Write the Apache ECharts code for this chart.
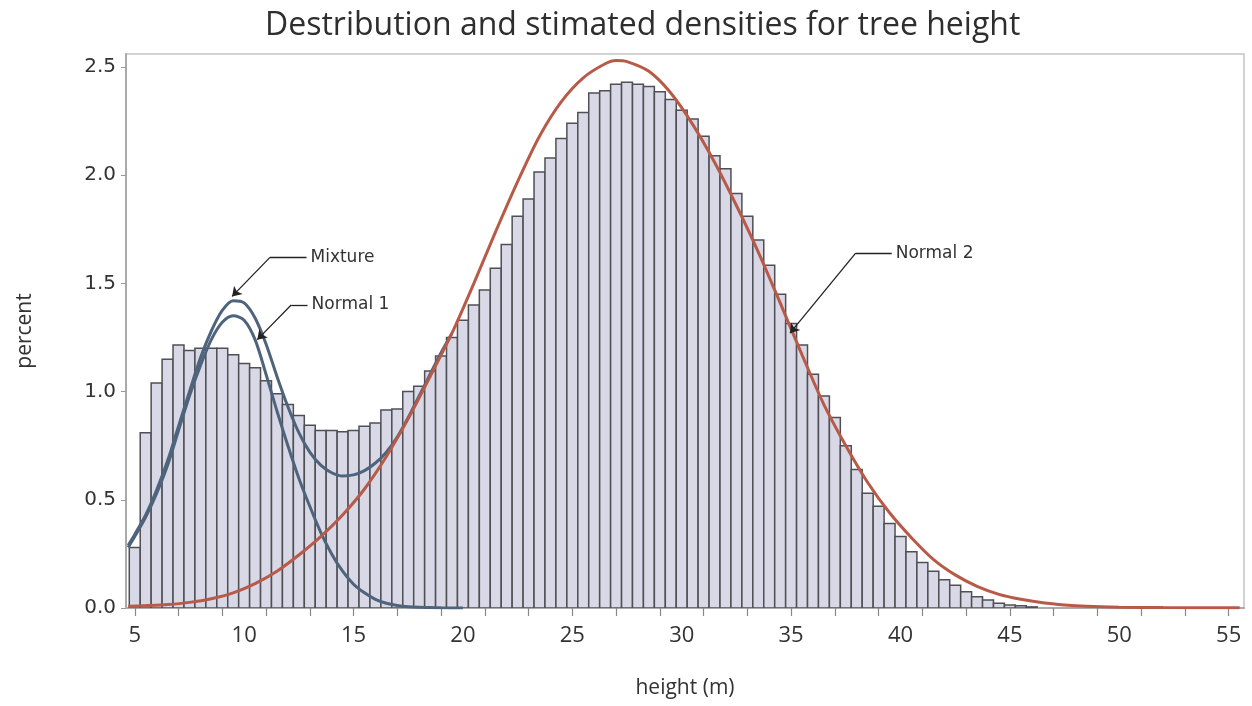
<!DOCTYPE html>
<html>
<head>
<meta charset="utf-8">
<script src="https://cdn.jsdelivr.net/npm/echarts@6/dist/echarts.min.js"></script>
<style>
  html, body { margin: 0; padding: 0; background: #fff; }
  #chart { width: 1252px; height: 706px; }
</style>
</head>
<body>
<div id="chart"></div>
<script>
// histogram bins (centre of each 0.5 m bin) and percent per bin
const binCenters = [
  5.0, 5.5, 6.0, 6.5, 7.0, 7.5, 8.0, 8.5, 9.0, 9.5,
  10.0, 10.5, 11.0, 11.5, 12.0, 12.5, 13.0, 13.5, 14.0, 14.5,
  15.0, 15.5, 16.0, 16.5, 17.0, 17.5, 18.0, 18.5, 19.0, 19.5,
  20.0, 20.5, 21.0, 21.5, 22.0, 22.5, 23.0, 23.5, 24.0, 24.5,
  25.0, 25.5, 26.0, 26.5, 27.0, 27.5, 28.0, 28.5, 29.0, 29.5,
  30.0, 30.5, 31.0, 31.5, 32.0, 32.5, 33.0, 33.5, 34.0, 34.5,
  35.0, 35.5, 36.0, 36.5, 37.0, 37.5, 38.0, 38.5, 39.0, 39.5,
  40.0, 40.5, 41.0, 41.5, 42.0, 42.5, 43.0, 43.5, 44.0, 44.5,
  45.0, 45.5, 46.0
];
const binPercent = [
  0.28, 0.81, 1.04, 1.15, 1.215, 1.19, 1.20, 1.20, 1.20, 1.17,
  1.13, 1.11, 1.05, 0.99, 0.94, 0.89, 0.845, 0.82, 0.82, 0.815,
  0.82, 0.84, 0.855, 0.915, 0.92, 1.00, 1.025, 1.095, 1.165, 1.25,
  1.33, 1.40, 1.47, 1.57, 1.68, 1.81, 1.89, 2.015, 2.08, 2.17,
  2.24, 2.29, 2.38, 2.39, 2.42, 2.43, 2.42, 2.41, 2.385, 2.35,
  2.30, 2.26, 2.18, 2.09, 2.03, 1.915, 1.81, 1.70, 1.584, 1.45,
  1.315, 1.215, 1.08, 0.98, 0.88, 0.75, 0.64, 0.53, 0.47, 0.39,
  0.33, 0.26, 0.21, 0.17, 0.13, 0.105, 0.075, 0.052, 0.037, 0.022,
  0.014, 0.01, 0.005
];

// estimated density curves
const normal1X = [4.7, 5.0, 5.5, 6.0, 6.5, 7.0, 7.5, 8.0, 8.5, 9.0, 9.5, 10.0, 10.5, 11.0, 11.5, 12.0, 12.5, 13.0, 13.5, 14.0, 14.5, 15.0, 15.5, 16.0, 16.5, 17.0, 17.5, 18.0, 18.5, 19.0, 20.0];
const normal1Y = [0.28, 0.33, 0.42, 0.53, 0.66, 0.82, 0.98, 1.12, 1.24, 1.32, 1.35, 1.33, 1.24, 1.08, 0.91, 0.75, 0.60, 0.47, 0.35, 0.25, 0.17, 0.11, 0.07, 0.04, 0.022, 0.012, 0.006, 0.003, 0.002, 0.001, 0.0];

const mixtureX = [4.7, 5.0, 5.5, 6.0, 6.5, 7.0, 7.5, 8.0, 8.5, 9.0, 9.5, 10.0, 10.5, 11.0, 11.5, 12.0, 12.5, 13.0, 13.5, 14.0, 14.5, 15.0, 15.5, 16.0, 16.5, 17.0, 17.5, 18.0, 18.5, 19.0, 19.5];
const mixtureY = [0.29, 0.34, 0.43, 0.545, 0.68, 0.84, 1.00, 1.155, 1.28, 1.375, 1.42, 1.41, 1.34, 1.22, 1.07, 0.93, 0.81, 0.72, 0.66, 0.625, 0.61, 0.615, 0.635, 0.67, 0.72, 0.79, 0.88, 0.98, 1.08, 1.18, 1.27];

const normal2X = [4.7, 5.5, 6.5, 7.5, 8.5, 9.5, 10.5, 11.5, 12.5, 13.5, 14.5, 15.5, 16.5, 17.5, 18.5, 19.5, 20.5, 21.5, 22.5, 23.5, 24.5, 25.5, 26.5, 27.0, 27.5, 28.5, 29.5, 30.5, 31.5, 32.5, 33.5, 34.5, 35.5, 36.5, 37.5, 38.5, 39.5, 40.5, 41.5, 42.5, 43.5, 44.5, 45.5, 46.5, 47.5, 48.5, 50, 52, 55.5];
const normal2Y = [0.008, 0.011, 0.016, 0.026, 0.043, 0.07, 0.113, 0.17, 0.245, 0.33, 0.43, 0.55, 0.70, 0.875, 1.07, 1.27, 1.50, 1.74, 1.97, 2.18, 2.34, 2.45, 2.515, 2.53, 2.525, 2.48, 2.38, 2.235, 2.06, 1.86, 1.645, 1.41, 1.17, 0.94, 0.75, 0.58, 0.44, 0.325, 0.225, 0.153, 0.1, 0.063, 0.04, 0.024, 0.014, 0.008, 0.004, 0.002, 0.001];

const xLabelValues = [5, 10, 15, 20, 25, 30, 35, 40, 45, 50, 55];
const xTickValues = [5, 7, 9, 11, 13, 15, 17, 19, 21, 23, 25, 27, 29, 31, 33, 35, 37, 39, 41, 43, 45, 47, 49, 51, 53, 55];
const yTickValues = [0, 0.5, 1.0, 1.5, 2.0, 2.5];

// callouts: [label, label anchor, elbow, arrow tip] in data units
const callouts = [
  ['Mixture', [12.85, 1.62], [11.18, 1.62], [9.45, 1.44]],
  ['Normal 1', [12.9, 1.40], [12.15, 1.40], [10.6, 1.24]],
  ['Normal 2', [39.6, 1.64], [37.95, 1.64], [34.95, 1.27]]
];

const BIN = 0.5;
const blue = '#4e647c';
const red = '#b85a48';

const chart = echarts.init(document.getElementById('chart'), null, { renderer: 'canvas' });

const zip = (xs, ys) => xs.map((x, i) => [x, ys[i]]);

const calloutLines = [];
callouts.forEach(([name, anchor, elbow, tip]) => {
  calloutLines.push([
    { coord: elbow, symbol: 'none' },
    { coord: anchor, symbol: 'none', label: { show: true, position: 'end', formatter: name, distance: 4 } }
  ]);
  calloutLines.push([
    { coord: elbow, symbol: 'none' },
    { coord: tip, symbol: 'arrow', symbolSize: 9 }
  ]);
});

chart.setOption({
  animation: false,
  title: {
    text: 'Destribution and stimated densities for tree height',
    left: 260,
    top: 5,
    textStyle: { fontFamily: 'Open Sans', fontSize: 32, fontWeight: 'normal', color: '#2e2e2e' }
  },
  grid: {
    left: 126, right: 8, top: 54, bottom: 98,
    show: true, borderColor: '#c4c4c4', borderWidth: 1.5, backgroundColor: 'transparent'
  },
  xAxis: {
    type: 'value',
    min: 4.6,
    max: 55.7,
    name: 'height (m)',
    nameLocation: 'middle',
    nameGap: 70,
    nameTextStyle: { fontFamily: 'Open Sans', fontSize: 21, color: '#333' },
    axisLine: { show: true, lineStyle: { color: '#aaaaaa', width: 2 } },
    axisTick: { show: true, length: 8, customValues: xTickValues, lineStyle: { color: '#888', width: 1.2 } },
    axisLabel: { customValues: xLabelValues, margin: 17, fontFamily: 'Open Sans', fontSize: 22, color: '#333' },
    splitLine: { show: false }
  },
  yAxis: {
    type: 'value',
    min: 0,
    max: 2.56,
    name: 'percent',
    nameLocation: 'middle',
    nameGap: 90,
    nameRotate: 90,
    nameTextStyle: { fontFamily: 'Open Sans', fontSize: 21, color: '#333' },
    axisLine: { show: true, lineStyle: { color: '#aaaaaa', width: 2 } },
    axisTick: { show: true, length: 5, customValues: yTickValues, lineStyle: { color: '#999' } },
    axisLabel: {
      customValues: yTickValues, margin: 10,
      fontFamily: 'DejaVu Sans', fontSize: 20, color: '#333',
      formatter: (v) => v.toFixed(1)
    },
    splitLine: { show: false }
  },
  series: [
    {
      name: 'histogram',
      type: 'custom',
      data: zip(binCenters, binPercent),
      renderItem: (params, api) => {
        const x = api.value(0);
        const y = api.value(1);
        const p0 = api.coord([x - BIN / 2, y]);
        const p1 = api.coord([x + BIN / 2, 0]);
        return {
          type: 'rect',
          shape: { x: p0[0], y: p0[1], width: p1[0] - p0[0], height: p1[1] - p0[1] },
          style: { fill: '#d9d8e6', stroke: '#4f4f55', lineWidth: 1.5 }
        };
      },
      clip: true,
      z: 1
    },
    {
      name: 'Normal 1',
      type: 'line',
      data: zip(normal1X, normal1Y),
      smooth: 0.3,
      showSymbol: false,
      lineStyle: { color: blue, width: 3 },
      z: 3
    },
    {
      name: 'Mixture',
      type: 'line',
      data: zip(mixtureX, mixtureY),
      smooth: 0.3,
      showSymbol: false,
      lineStyle: { color: blue, width: 3 },
      z: 3
    },
    {
      name: 'Normal 2',
      type: 'line',
      data: zip(normal2X, normal2Y),
      smooth: 0.3,
      showSymbol: false,
      lineStyle: { color: red, width: 3 },
      z: 4,
      markLine: {
        silent: true,
        animation: false,
        symbol: ['none', 'none'],
        lineStyle: { color: '#222', width: 1.3, type: 'solid' },
        label: { show: false, fontFamily: 'DejaVu Sans', fontSize: 17, color: '#333' },
        data: calloutLines
      }
    }
  ]
});
</script>
</body>
</html>
